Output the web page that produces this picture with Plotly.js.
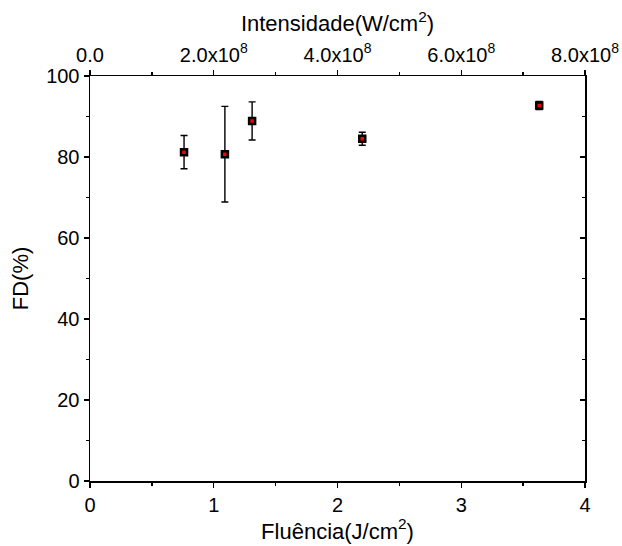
<!DOCTYPE html>
<html><head><meta charset="utf-8">
<script src="https://cdn.plot.ly/plotly-3.0.1.min.js"></script>
<style>body{margin:0;background:#fff}</style>
</head><body>
<div id="chart" style="width:622px;height:546px"></div>
<script>
const fluencia = [0.76, 1.09, 1.31, 2.2, 3.63];
const fd = [81.2, 80.7, 88.9, 84.5, 92.7];
const fdErr = [4.1, 11.8, 4.7, 1.6, 1.0];
const topTickVals = [0, 2e8, 4e8, 6e8, 8e8];
const topTickText = ['0.0', '2.0x10<sup>8</sup>', '4.0x10<sup>8</sup>', '6.0x10<sup>8</sup>', '8.0x10<sup>8</sup>'];

const font = {family: 'Liberation Sans', color: '#000'};
const data = [{
  x: fluencia, y: fd, type: 'scatter', mode: 'markers',
  error_y: {type: 'data', array: fdErr, visible: true, color: '#000', thickness: 1.4, width: 3.5},
  marker: {symbol: 'square', size: 6, color: '#ff0000', line: {color: '#000', width: 2.5}},
  showlegend: false
}, {
  x: [], y: [], xaxis: 'x2', yaxis: 'y', type: 'scatter', mode: 'markers', showlegend: false, hoverinfo: 'skip'
}, {
  x: [], y: [], xaxis: 'x', yaxis: 'y2', type: 'scatter', mode: 'markers', showlegend: false, hoverinfo: 'skip'
}];
const axBase = {showgrid: false, zeroline: false, showline: true, linecolor: '#000', linewidth: 1.5,
  tickcolor: '#000', tickwidth: 1.3, ticklen: 5, tickfont: {family: 'Liberation Sans', color: '#000', size: 20}};
const titleFont = {family: 'Liberation Sans', color: '#000', size: 22};
const layout = {
  width: 622, height: 546,
  margin: {l: 90, r: 37, t: 76, b: 65},
  paper_bgcolor: '#fff', plot_bgcolor: '#fff',
  font: font,
  xaxis: Object.assign({}, axBase, {range: [0, 4], tickvals: [0,1,2,3,4], ticks: 'outside',
    minor: {dtick: 0.5, ticklen: 3, tickcolor: '#000', tickwidth: 1.3, ticks: 'outside'},
    title: {text: 'Fluência(J/cm<sup>2</sup>)', font: titleFont, standoff: 0}}),
  xaxis2: Object.assign({}, axBase, {range: [0, 8e8], autorange: false, overlaying: 'x', side: 'top', anchor: 'y',
    tickvals: topTickVals, ticktext: topTickText, ticks: 'outside',
    minor: {dtick: 1e8, ticklen: 3, tickcolor: '#000', tickwidth: 1.3, ticks: 'outside'},
    title: {text: 'Intensidade(W/cm<sup>2</sup>)', font: titleFont, standoff: 2}}),
  yaxis: Object.assign({}, axBase, {range: [0, 100], dtick: 20, ticks: 'outside',
    minor: {dtick: 10, ticklen: 3, tickcolor: '#000', tickwidth: 1.3, ticks: 'outside'},
    title: {text: 'FD(%)', font: titleFont, standoff: 11}}),
  yaxis2: Object.assign({}, axBase, {range: [0, 100], autorange: false, dtick: 20, overlaying: 'y', side: 'right', anchor: 'x',
    ticks: 'inside', showticklabels: false,
    minor: {dtick: 10, ticklen: 3, tickcolor: '#000', tickwidth: 1.3, ticks: 'inside'}})
};
Plotly.newPlot('chart', data, layout, {displayModeBar: false, staticPlot: true});
</script>
</body></html>
